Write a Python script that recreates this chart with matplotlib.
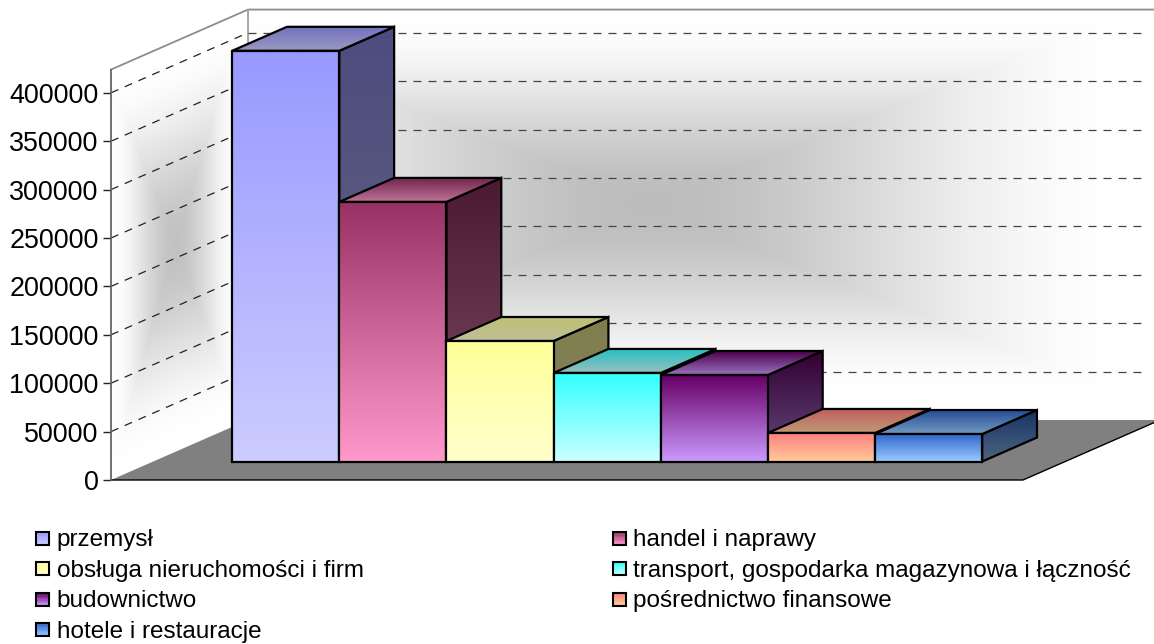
import numpy as np
import matplotlib
matplotlib.use("Agg")
import matplotlib.pyplot as plt
from matplotlib.colors import to_rgb
from matplotlib.legend_handler import HandlerBase
from matplotlib.patches import Polygon, Rectangle

# Dane
categories = ["przemysł", "handel i naprawy", "obsługa nieruchomości i firm",
              "transport, gospodarka magazynowa i łączność", "budownictwo",
              "pośrednictwo finansowe", "hotele i restauracje"]
values = [424300, 268200, 124500, 91500, 89400, 29500, 28400]
top_colors = ["#9999FF", "#993366", "#FFFF99", "#33FFFF", "#660066", "#FF8080", "#3366CC"]
bottom_colors = ["#CCCCFF", "#FF99CC", "#FFFFCC", "#CCFFFF", "#CC99FF", "#FFCC99", "#99CCFF"]
y_ticks = [0, 50000, 100000, 150000, 200000, 250000, 300000, 350000, 400000]
axis_max = 424000

plt.rcParams["font.family"] = ["Liberation Sans", "DejaVu Sans"]

# Skala: os y w jednostkach danych, os x w pikselach
units_per_px = 50000 / 48.4
zero_px = 480

# Uklad pseudo-3D
left_x = 111
floor_w = 912
depth_dx = 137
depth_dy = 60
bar_start = 190
bar_w = 107.14
bar_d0 = 0.308
bar_d1 = 0.708


def pt(x, v, depth=0.0):
    # punkt na plaszczyznie o danej glebokosci
    return (x + depth * depth_dx, v + depth * depth_dy * units_per_px)


def gradient_face(ax, verts, c_top, c_bottom, zorder):
    xs = [p[0] for p in verts]
    ys = [p[1] for p in verts]
    t = np.linspace(0, 1, 64)[:, None, None]
    img = (1 - t) * np.array(c_top)[None, None, :] + t * np.array(c_bottom)[None, None, :]
    im = ax.imshow(img, extent=(min(xs), max(xs), min(ys), max(ys)), origin="upper",
                   aspect="auto", interpolation="bilinear", zorder=zorder)
    clip = Polygon(verts, closed=True, transform=ax.transData)
    im.set_clip_path(clip)
    ax.add_patch(Polygon(verts, closed=True, fill=False, edgecolor="black",
                         linewidth=1.6, joinstyle="miter", zorder=zorder + 0.01))


def shade(u, v, su, sv):
    # jasnosc sciany: ciemny srodek, biale brzegi
    r = np.maximum(np.abs(u) / su, np.abs(v) / sv)
    r = np.clip(r, 0, 1)
    r = r * r * (3 - 2 * r)
    return r


def wall_image(ax, verts, gray, xs_px, ys_px, zorder):
    rgb = np.dstack([gray, gray, gray])
    y_hi = (zero_px - ys_px[0]) * units_per_px
    y_lo = (zero_px - ys_px[-1]) * units_per_px
    im = ax.imshow(rgb, extent=(xs_px[0], xs_px[-1], y_lo, y_hi), origin="upper",
                   aspect="auto", interpolation="bilinear", zorder=zorder)
    im.set_clip_path(Polygon(verts, closed=True, transform=ax.transData))


class GradientHandler(HandlerBase):
    # kwadracik legendy z gradientem
    def __init__(self, c_top, c_bottom):
        super().__init__()
        self.c_top = np.array(to_rgb(c_top))
        self.c_bottom = np.array(to_rgb(c_bottom))

    def create_artists(self, legend, orig_handle, xdescent, ydescent, width, height, fontsize, trans):
        size = 9.6
        x0 = width - size
        y0 = (height - size) / 2 - 0.5
        artists = []
        n = 10
        for k in range(n):
            t = k / (n - 1)
            col = (1 - t) * self.c_top + t * self.c_bottom
            artists.append(Rectangle((x0, y0 + size * (1 - (k + 1) / n)), size, size / n,
                                     facecolor=col, edgecolor="none", transform=trans))
        artists.append(Rectangle((x0, y0), size, size, fill=False, edgecolor="black",
                                 linewidth=1.5, transform=trans))
        return artists


fig = plt.figure(figsize=(11.54, 6.44), dpi=100)
ax = fig.add_axes([0, 0, 1, 1])

# Sciany
back_left = left_x + depth_dx
back_right = left_x + floor_w + depth_dx
top_v = axis_max

xs = np.arange(back_left, back_right + 1, 4.0)
ys = np.arange(8, 421, 4.0)
xx, yy = np.meshgrid(xs, ys)
r = shade((xx - 650) / 480.0, (yy - 205) / 205.0, 1.0, 0.95)
wall_image(ax, [pt(left_x, 0, 1), pt(left_x, top_v, 1), pt(left_x + floor_w, top_v, 1), pt(left_x + floor_w, 0, 1)],
           0.74 + 0.26 * r, xs, ys, 0.5)

xs = np.arange(left_x, back_left + 1, 2.0)
ys = np.arange(8, 481, 4.0)
xx, yy = np.meshgrid(xs, ys)
uu = (xx - left_x) / depth_dx
yy0 = yy + uu * depth_dy
r = shade((uu - 0.47) / 0.47, (yy0 - 275) / 205.0, 1.0, 0.95)
wall_image(ax, [pt(left_x, 0), pt(left_x, top_v), pt(left_x, top_v, 1), pt(left_x, 0, 1)],
           0.76 + 0.24 * r, xs, ys, 0.5)

# Podloga
floor = Polygon([pt(left_x, 0), pt(left_x, 0, 1), pt(left_x + floor_w, 0, 1), pt(left_x + floor_w, 0)],
                closed=True, facecolor="#808080", edgecolor="none", zorder=1)
ax.add_patch(floor)
ax.plot(*zip(pt(left_x, 0), pt(left_x + floor_w, 0), pt(left_x + floor_w, 0, 1)),
        color="black", linewidth=1.0, zorder=1.2)

# Krawedzie scian
ax.plot(*zip(pt(left_x, top_v), pt(left_x, top_v, 1), pt(left_x + floor_w, top_v, 1)),
        color="#8c8c8c", linewidth=1.3, zorder=1.2)
ax.plot(*zip(pt(left_x, top_v, 1), pt(left_x, 0, 1)), color="#a0a0a0", linewidth=1.3, zorder=1.2)

# Linie siatki
for v in y_ticks[1:]:
    ax.plot(*zip(pt(left_x, v), pt(left_x, v, 1)), color="#222222", linewidth=0.9,
            linestyle=(0, (6.4, 5.6)), zorder=1.4)
    ax.plot(*zip(pt(left_x, v, 1), pt(left_x + floor_w - 13, v, 1)), color="#444444", linewidth=0.9,
            linestyle=(0, (6.4, 5.6)), zorder=1.4)

# Slupki
for i, val in enumerate(values):
    x0 = bar_start + i * bar_w
    x1 = x0 + bar_w
    ct = np.array(to_rgb(top_colors[i]))
    cb = np.array(to_rgb(bottom_colors[i]))
    z = 3 + i * 0.1
    side = [pt(x1, 0, bar_d0), pt(x1, val, bar_d0), pt(x1, val, bar_d1), pt(x1, 0, bar_d1)]
    gradient_face(ax, side, ct * 0.5, cb * 0.5, z)
    top = [pt(x0, val, bar_d0), pt(x1, val, bar_d0), pt(x1, val, bar_d1), pt(x0, val, bar_d1)]
    gradient_face(ax, top, ct * 0.75, cb * 0.75, z + 0.02)
    front = [pt(x0, 0, bar_d0), pt(x1, 0, bar_d0), pt(x1, val, bar_d0), pt(x0, val, bar_d0)]
    gradient_face(ax, front, ct, cb, z + 0.04)

# Os y
ax.set_xlim(0, 1154)
ax.set_ylim((zero_px - 644) * units_per_px, zero_px * units_per_px)
ax.set_xticks([])
ax.set_yticks(y_ticks)
ax.ticklabel_format(axis="y", style="plain")
ax.tick_params(axis="y", length=5.8, width=1.0, color="#222222", pad=3, labelsize=19.4, labelcolor="black")
for name in ["top", "right", "bottom"]:
    ax.spines[name].set_visible(False)
ax.spines["left"].set_position(("data", left_x))
ax.spines["left"].set_bounds(0, axis_max)
ax.spines["left"].set_color("#666666")
ax.spines["left"].set_linewidth(1.3)
ax.patch.set_visible(False)

# Legenda: kolumnami, jak w oryginale czytana wierszami
order = [0, 2, 4, 6, 1, 3, 5]
handles = [Rectangle((0, 0), 1, 1) for _ in order]
handler_map = {h: GradientHandler(top_colors[i], bottom_colors[i]) for h, i in zip(handles, order)}
ax.legend(handles, [categories[i] for i in order], handler_map=handler_map, ncol=2,
          loc="upper left", bbox_to_anchor=(36 / 1154, 1 - 529 / 644), frameon=False,
          fontsize=17.5, handlelength=0.55, handletextpad=0.3, labelspacing=0.35,
          columnspacing=10.25, borderpad=0, borderaxespad=0)

plt.savefig("out.png", dpi=100)
